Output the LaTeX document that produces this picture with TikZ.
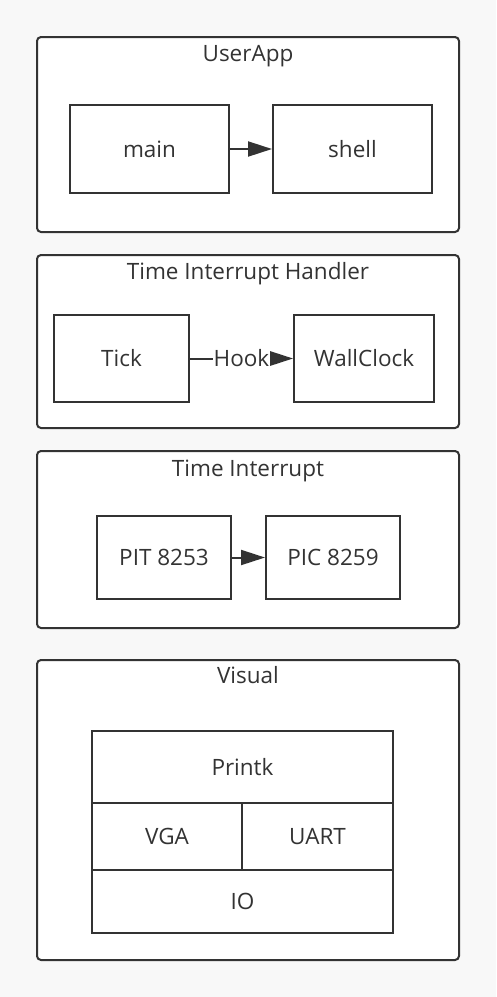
\documentclass[tikz,border=0pt]{standalone}
\usepackage{fontspec}
\setmainfont{Open Sans}
\usepackage{tikz}
\usetikzlibrary{arrows.meta,positioning}
\definecolor{ink}{HTML}{333333}
\definecolor{paper}{HTML}{F8F8F8}

\tikzset{
  layer/.style={draw=ink, line width=2pt, rounded corners=4pt, fill=white},
  title/.style={anchor=base, text=ink, inner sep=0pt},
  block/.style={draw=ink, line width=2pt, fill=white, text=ink, inner sep=0pt},
  cell/.style={draw=ink, line width=2pt, fill=white, text=ink, inner sep=0pt, outer sep=0pt, anchor=north west},
  flow/.style={draw=ink, line width=2pt, -{Triangle[length=24pt,width=15pt]}},
}

\begin{document}
\begin{tikzpicture}[x=1pt, y=-1pt, font=\fontsize{22.5}{27}\selectfont]
  \fill[paper] (0,0) rectangle (496,997);
  \useasboundingbox (0,0) rectangle (496,997);

  % UserApp
  \draw[layer] (37,37) rectangle (459,232);
  \node[title] (userapp) at (248,61) {UserApp};
  \node[block, minimum width=159pt, minimum height=88pt] (main) at (149.5,149) {main};
  \node[block, minimum width=159pt, minimum height=88pt, right=42pt of main] (shell) {shell};
  \draw[flow] (main) -- (shell);

  % Time Interrupt Handler
  \draw[layer] (37,255) rectangle (459,428);
  \node[title] (handler) at (248,279) {Time Interrupt Handler};
  \node[block, minimum width=135pt, minimum height=87pt] (tick) at (121.5,358.5) {Tick};
  \node[block, minimum width=140pt, minimum height=87pt, right=103pt of tick] (wallclock) {WallClock};
  \draw[flow] (tick) -- node[fill=white, inner sep=0.5pt, text=ink] {Hook} (wallclock);

  % Time Interrupt
  \draw[layer] (37,451) rectangle (459,628);
  \node[title] (interrupt) at (248,476) {Time Interrupt};
  \node[block, minimum width=134pt, minimum height=83pt] (pit) at (164,557.5) {PIT 8253};
  \node[block, minimum width=134pt, minimum height=83pt, right=33pt of pit] (pic) {PIC 8259};
  \draw[flow] (pit) -- (pic);

  % Visual
  \draw[layer] (37,660) rectangle (459,960);
  \node[title] (visual) at (248,683) {Visual};
  \node[cell, minimum width=301pt, minimum height=72pt] (printk) at (92,731) {Printk};
  \node[cell, minimum width=150pt, minimum height=67pt] (vga) at (printk.south west) {VGA};
  \node[cell, minimum width=151pt, minimum height=67pt] (uart) at (vga.north east) {UART};
  \node[cell, minimum width=301pt, minimum height=63pt] (io) at (vga.south west) {IO};
\end{tikzpicture}
\end{document}
